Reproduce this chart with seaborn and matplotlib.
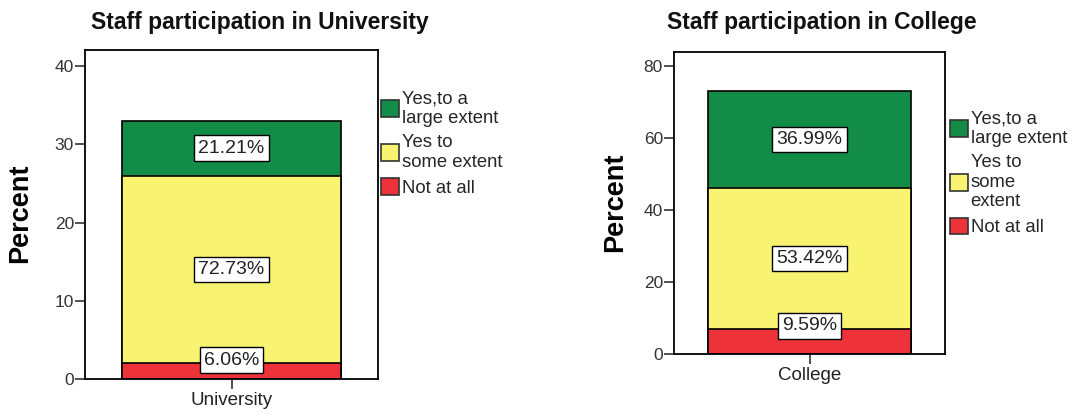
import numpy as np
import pandas as pd
import matplotlib
matplotlib.use("Agg")
import matplotlib.pyplot as plt
from matplotlib.patches import Patch
import seaborn as sns

# Response categories, stacked bottom -> top
responses = ["Not at all", "Yes to some extent", "Yes,to a large extent"]
legend_text = {
    "University": ["Not at all", "Yes to\nsome extent", "Yes,to a\nlarge extent"],
    "College": ["Not at all", "Yes to\nsome\nextent", "Yes,to a\nlarge extent"],
}
colors = ["#EE3239", "#F8F471", "#128C47"]

groups = ["University", "College"]
university_counts = [2, 24, 7]
college_counts = [7, 39, 27]
university_labels = ["6.06%", "72.73%", "21.21%"]
college_labels = ["9.59%", "53.42%", "36.99%"]
y_limits = {"University": 42.05, "College": 83.8}
y_ticks = {"University": [0, 10, 20, 30, 40], "College": [0, 20, 40, 60, 80]}

sns.set_theme(style="white")
plt.rcParams["font.family"] = ["Liberation Sans", "DejaVu Sans"]

fig = plt.figure(figsize=(10.86, 4.15), dpi=100)
axes_rect = {
    "University": [85 / 1086, 1 - 379 / 415, 293 / 1086, 329 / 415],
    "College": [674 / 1086, 1 - 354 / 415, 271 / 1086, 302 / 415],
}
title_pos = {"University": (260 / 1086, 1 - 23 / 415), "College": (822 / 1086, 1 - 23 / 415)}
ylabel_pos = {"University": (20 / 1086, 1 - 213 / 415), "College": (615 / 1086, 1 - 202 / 415)}
legend_anchor = {"University": (381 / 1086, 1 - 90 / 415), "College": (950 / 1086, 1 - 110 / 415)}

data = {
    "University": (university_counts, university_labels),
    "College": (college_counts, college_labels),
}

for g in groups:
    counts, labels = data[g]
    ax = fig.add_axes(axes_rect[g])
    tops = np.cumsum(counts)
    bottoms = tops - np.array(counts)
    # draw the cumulative totals from tallest to shortest so each segment shows
    for i in reversed(range(len(counts))):
        df = pd.DataFrame({"group": [g], "value": [tops[i]]})
        sns.barplot(data=df, x="group", y="value", color=colors[i], saturation=1,
                    width=0.75, edgecolor="black", linewidth=1.2, ax=ax)
    for i, lab in enumerate(labels):
        if i == 0:
            # short base segment: label sits just over its upper edge
            y = tops[i] + 0.01 * y_limits[g]
        else:
            y = (bottoms[i] + tops[i]) / 2
        ax.text(0, y, lab, ha="center", va="center", fontsize=14, color="#222222",
                bbox=dict(boxstyle="square,pad=0.22", fc="white", ec="black", lw=1.0))
    ax.set_ylim(0, y_limits[g])
    ax.set_xlim(-0.5, 0.5)
    ax.set_yticks(y_ticks[g])
    ax.set_xlabel("")
    ax.set_ylabel("")
    for s in ax.spines.values():
        s.set_visible(True)
        s.set_color("black")
        s.set_linewidth(1.3)
    ax.tick_params(axis="y", left=True, length=7, width=1.2, color="#333333",
                   labelsize=12.5, labelcolor="#333333", pad=1)
    ax.tick_params(axis="x", bottom=True, length=7, width=1.2, color="#333333",
                   labelsize=13.5, labelcolor="#222222", pad=2)
    fig.text(*title_pos[g], f"Staff participation in {g}", ha="center", va="center",
             fontsize=16.5, fontweight="bold", color="#111111")
    fig.text(*ylabel_pos[g], "Percent", ha="center", va="center", rotation=90,
             fontsize=19.5, fontweight="bold", color="black")
    handles = [Patch(facecolor=colors[i], edgecolor="#333333", linewidth=1.2,
                     label=legend_text[g][i]) for i in reversed(range(3))]
    fig.legend(handles=handles, loc="upper left", bbox_to_anchor=legend_anchor[g],
               frameon=False, fontsize=13.3, handlelength=1.0, handleheight=1.0,
               handletextpad=0.12, labelspacing=0.4, borderpad=0, borderaxespad=0)

fig.savefig("out.png", dpi=100)
